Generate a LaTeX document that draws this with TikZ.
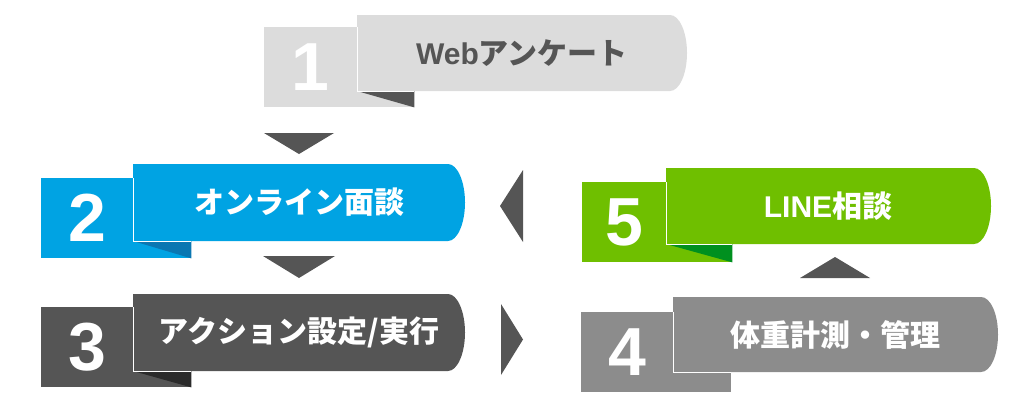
\documentclass[tikz,border=0pt]{standalone}
\usepackage{fontspec}
\setmainfont{Liberation Sans}
\newfontfamily\jpfont{Noto Sans CJK JP}
\newfontfamily\latfont{Liberation Sans}
\usepackage{xcolor}
\usetikzlibrary{positioning,calc}

\definecolor{webgray}{HTML}{DCDCDC}
\definecolor{webfold}{HTML}{555555}
\definecolor{meetblue}{HTML}{00A3E3}
\definecolor{meetfold}{HTML}{0A77B2}
\definecolor{actgray}{HTML}{555555}
\definecolor{actfold}{HTML}{2B2B2B}
\definecolor{weighgray}{HTML}{8C8C8C}
\definecolor{linegreen}{HTML}{6FBF00}
\definecolor{linefold}{HTML}{00901F}
\definecolor{tipgray}{HTML}{555555}

\begin{document}
\begin{tikzpicture}[
    x=1pt, y=-1pt,
    numsq/.style={rectangle, anchor=north west, minimum width=150pt, minimum height=80pt, inner sep=0pt},
    digit/.style={font=\bfseries\fontsize{68}{68}\selectfont, text=white, inner sep=0pt},
    steptext/.style={font=\jpfont\bfseries\fontsize{30}{32}\selectfont, text=white, inner sep=0pt},
    edge/.style={white, line width=0.8pt},
    tri/.style={fill=tipgray}
]
\useasboundingbox (0,0) rectangle (1024,408);

% Step 1 - Web survey
\node[numsq, fill=webgray] (n1) at (264,27) {};
\coordinate (b1) at (357,15);
\fill[webgray] (b1) -- ++(313,0) .. controls +(9.4,0) and +(0,-21) .. ++(17,38) .. controls +(0,21) and +(9.4,0) .. ++(-17,38) -- ++(-313,0) -- cycle;
\coordinate (f1) at ($(b1)+(0,76)$);
\fill[webfold] (f1) -- (f1 -| n1.east) -- (n1.south east) -- cycle;
\draw[edge] (n1.north -| b1) -- (f1) -- (f1 -| n1.east);
\node[digit] (d1) at ($(n1.west)!0.5!(n1.west -| b1)$) {1};
\node[steptext, text=webfold] (t1) at ($(b1)+(165,38)$) {{\latfont\bfseries Web}アンケート};

% Step 2 - online meeting
\node[numsq, fill=meetblue] (n2) at (41,178) {};
\coordinate (b2) at (133,164);
\fill[meetblue] (b2) -- ++(315,0) .. controls +(9.4,0) and +(0,-21) .. ++(17,38.5) .. controls +(0,21) and +(9.4,0) .. ++(-17,38.5) -- ++(-315,0) -- cycle;
\coordinate (f2) at ($(b2)+(0,77)$);
\fill[meetfold] (f2) -- (f2 -| n2.east) -- (n2.south east) -- cycle;
\draw[edge] (n2.north -| b2) -- (f2) -- (f2 -| n2.east);
\node[digit] (d2) at ($(n2.west)!0.5!(n2.west -| b2)$) {2};
\node[steptext] (t2) at ($(b2)+(166,38.5)$) {オンライン面談};

% Step 3 - action
\node[numsq, fill=actgray] (n3) at (41,307) {};
\coordinate (b3) at (133,294);
\fill[actgray] (b3) -- ++(315,0) .. controls +(9.4,0) and +(0,-21) .. ++(17,38.5) .. controls +(0,21) and +(9.4,0) .. ++(-17,38.5) -- ++(-315,0) -- cycle;
\coordinate (f3) at ($(b3)+(0,77)$);
\fill[actfold] (f3) -- (f3 -| n3.east) -- (n3.south east) -- cycle;
\draw[edge] (n3.north -| b3) -- (f3) -- (f3 -| n3.east);
\node[digit] (d3) at ($(n3.west)!0.5!(n3.west -| b3)$) {3};
\node[steptext] (t3) at ($(b3)+(166,38.5)$) {アクション設定/実行};

% Step 4 - weight
\node[numsq, fill=weighgray] (n4) at (581,312) {};
\coordinate (b4) at (673,297);
\fill[weighgray] (b4) -- ++(308,0) .. controls +(9.4,0) and +(0,-21) .. ++(17,37.5) .. controls +(0,21) and +(9.4,0) .. ++(-17,37.5) -- ++(-308,0) -- cycle;
\coordinate (f4) at ($(b4)+(0,75)$);
\draw[edge] (n4.north -| b4) -- (f4) -- (f4 -| n4.east);
\node[digit] (d4) at ($(n4.west)!0.5!(n4.west -| b4)$) {4};
\node[steptext] (t4) at ($(b4)+(162,37.5)$) {体重計測・管理};

% Step 5 - LINE
\node[numsq, fill=linegreen] (n5) at (582,182) {};
\coordinate (b5) at (666,168);
\fill[linegreen] (b5) -- ++(308,0) .. controls +(9.4,0) and +(0,-21) .. ++(17,38) .. controls +(0,21) and +(9.4,0) .. ++(-17,38) -- ++(-308,0) -- cycle;
\coordinate (f5) at ($(b5)+(0,76)$);
\fill[linefold] (f5) -- (f5 -| n5.east) -- (n5.south east) -- cycle;
\draw[edge] (n5.north -| b5) -- (f5) -- (f5 -| n5.east);
\node[digit] (d5) at ($(n5.west)!0.5!(n5.west -| b5)$) {5};
\node[steptext] (t5) at ($(b5)+(162,38)$) {{\latfont\bfseries LINE}相談};

% flow triangles
\coordinate (a12) at (299,143.5);
\coordinate (a23) at (299,267);
\coordinate (a34) at (512,339.5);
\coordinate (a45) at (835,267.5);
\coordinate (a52) at (511.5,206);
\fill[tri] (a12) ++(-35,-10.5) -- ++(70,0) -- ++(-35,21) -- cycle;
\fill[tri] (a23) ++(-36,-11) -- ++(72,0) -- ++(-36,22) -- cycle;
\fill[tri] (a34) ++(-11,-35.5) -- ++(22,35.5) -- ++(-22,35.5) -- cycle;
\fill[tri] (a45) ++(-35,10.5) -- ++(70,0) -- ++(-35,-21) -- cycle;
\fill[tri] (a52) ++(11.5,-36) -- ++(-23,36) -- ++(23,36) -- cycle;

\end{tikzpicture}
\end{document}
